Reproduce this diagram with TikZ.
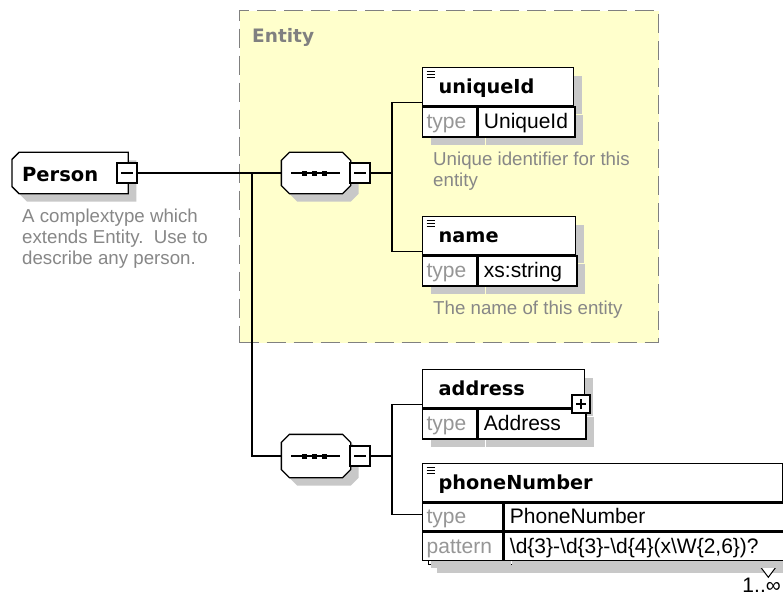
\documentclass[tikz,border=0pt]{standalone}
\usepackage{fontspec}
\setmainfont{Liberation Sans}
\newfontfamily\hdfont{DejaVu Sans}
\usetikzlibrary{positioning,fit,shadows}
\definecolor{EntYel}{RGB}{255,255,204}
\definecolor{EntGray}{RGB}{128,128,128}
\definecolor{ShadowGray}{RGB}{200,200,200}
\definecolor{TypeGray}{RGB}{150,150,150}
\definecolor{DescGray}{RGB}{135,135,135}
% box with cut corners, left and right cut set apart
\makeatletter
\newdimen\octLx \newdimen\octBy \newdimen\octRx \newdimen\octTy
\newdimen\octCl \newdimen\octCr
\pgfkeys{/pgf/oct left/.initial=8pt,/pgf/oct right/.initial=8pt}
\pgfdeclareshape{octbox}{%
  \inheritsavedanchors[from=rectangle]%
  \inheritanchorborder[from=rectangle]%
  \inheritanchor[from=rectangle]{center}%
  \inheritanchor[from=rectangle]{north}%
  \inheritanchor[from=rectangle]{south}%
  \inheritanchor[from=rectangle]{east}%
  \inheritanchor[from=rectangle]{west}%
  \inheritanchor[from=rectangle]{north east}%
  \inheritanchor[from=rectangle]{north west}%
  \inheritanchor[from=rectangle]{south east}%
  \inheritanchor[from=rectangle]{south west}%
  \inheritanchor[from=rectangle]{base}%
  \backgroundpath{%
    \southwest \octLx=\pgf@x \octBy=\pgf@y
    \northeast \octRx=\pgf@x \octTy=\pgf@y
    \pgfmathsetlength\octCl{\pgfkeysvalueof{/pgf/oct left}}%
    \pgfmathsetlength\octCr{\pgfkeysvalueof{/pgf/oct right}}%
    \pgfpathmoveto{\pgfqpoint{\octLx}{\dimexpr\octBy+\octCl\relax}}%
    \pgfpathlineto{\pgfqpoint{\octLx}{\dimexpr\octTy-\octCl\relax}}%
    \pgfpathlineto{\pgfqpoint{\dimexpr\octLx+\octCl\relax}{\octTy}}%
    \pgfpathlineto{\pgfqpoint{\dimexpr\octRx-\octCr\relax}{\octTy}}%
    \pgfpathlineto{\pgfqpoint{\octRx}{\dimexpr\octTy-\octCr\relax}}%
    \pgfpathlineto{\pgfqpoint{\octRx}{\dimexpr\octBy+\octCr\relax}}%
    \pgfpathlineto{\pgfqpoint{\dimexpr\octRx-\octCr\relax}{\octBy}}%
    \pgfpathlineto{\pgfqpoint{\dimexpr\octLx+\octCl\relax}{\octBy}}%
    \pgfpathclose
  }%
}
\makeatother
\tikzset{
  wire/.style={line width=1.3pt,black},
  xsshadow/.style={drop shadow={shadow xshift=8pt,shadow yshift=-8pt,fill=ShadowGray,opacity=1}},
  entbox/.style={rectangle,draw=EntGray,fill=EntYel,line width=1.3pt,
                 dash pattern=on 19pt off 8pt,anchor=north west,inner sep=0pt},
  entlbl/.style={anchor=base west,inner sep=0pt,text=EntGray,
                 font=\hdfont\bfseries\fontsize{18.5}{22}\selectfont},
  pnode/.style={octbox,oct left=7pt,oct right=0pt,
                draw,fill=white,line width=1.3pt,xsshadow,anchor=west,
                minimum width=115pt,minimum height=40pt,inner sep=0pt,
                align=left,text width=96pt,text height=18pt,text depth=2pt,
                font=\hdfont\bfseries\fontsize{19.5}{22}\selectfont},
  seqnode/.style={octbox,oct left=8pt,oct right=8pt,
                  draw,fill=white,line width=1.3pt,xsshadow,
                  minimum width=68pt,minimum height=40pt,inner sep=0pt,
                  path picture={
                    \draw[line width=1.3pt] ([xshift=-25pt]path picture bounding box.center)
                      -- ([xshift=24pt]path picture bounding box.center);
                    \foreach \k in {-12,-2,8}
                      \fill[black] ([shift={(\k-2.5,-2.5)}]path picture bounding box.center) rectangle ++(5,5);
                  }},
  minbox/.style={rectangle,draw,fill=white,line width=1.3pt,minimum size=20pt,inner sep=0pt,
                 path picture={\draw[line width=1.2pt] ([xshift=4pt]path picture bounding box.west)
                   -- ([xshift=-4pt]path picture bounding box.east);}},
  plusbox/.style={rectangle,draw,fill=white,line width=1.3pt,minimum size=18pt,inner sep=0pt,
                  path picture={
                    \draw[line width=1.2pt] ([xshift=4pt]path picture bounding box.west)
                      -- ([xshift=-4pt]path picture bounding box.east);
                    \draw[line width=1.2pt] ([yshift=-4pt]path picture bounding box.north)
                      -- ([yshift=4pt]path picture bounding box.south);}},
  hdr/.style={rectangle,draw,fill=white,line width=1.3pt,xsshadow,anchor=north west,
              minimum height=38pt,inner xsep=16pt,inner ysep=0pt,align=left,
              text height=18pt,text depth=4pt,
              font=\hdfont\bfseries\fontsize{19.3}{22}\selectfont},
  opt/.style={path picture={\foreach \k in {0,3,6}
                \draw[line width=1.1pt] ([shift={(4,4+\k)}]path picture bounding box.north west) -- ++(8,0);}},
  tcell/.style={rectangle,draw,fill=white,line width=1.3pt,xsshadow,minimum height=30pt,
                inner xsep=4pt,inner ysep=0pt,align=left,text width=46pt,
                text height=17pt,text depth=3pt,text=TypeGray,
                font=\fontsize{21}{24}\selectfont},
  vcell/.style={tcell,inner xsep=6pt,text=black},
  stackbox/.style={rectangle,draw,fill=white,line width=1.3pt,xsshadow,anchor=north west,inner sep=0pt},
  desc/.style={anchor=north west,inner sep=0pt,align=left,text=DescGray,
               font=\fontsize{18.7}{21}\selectfont},
  mult/.style={anchor=base east,inner sep=0pt,font=\fontsize{21}{24}\selectfont},
}

\begin{document}
\begin{tikzpicture}[x=1pt,y=-1pt]
  \path[use as bounding box,fill=white] (0,0) rectangle (783,596);
  % base type
  \node[entbox,minimum width=419pt,minimum height=332pt] (entity) at (239,10) {};
  \node[entlbl] (entlabel) at (252,43) {Entity};

  % root element
  \node[pnode] (person) at (12,173) {Person};
  \node[minbox] (pmin) at (127,173) {};
  \node[desc] (pdesc) at (22,209) {A complextype which\\extends Entity.\ \ Use to\\describe any person.};

  % sequences
  \node[seqnode] (seq1) at (316,173) {};
  \node[minbox] (s1min) at (360,173) {};
  \node[seqnode,minimum height=42pt] (seq2) at (316,456) {};
  \node[minbox] (s2min) at (360,456) {};

  % uniqueId
  \node[hdr,opt,text width=119pt] (uid) at (422,67) {uniqueId};
  \node[tcell,below right=0pt of uid.south west] (uidt) {type};
  \node[vcell,right=0pt of uidt,text width=85pt] (uidv) {UniqueId};
  \node[fit=(uid)(uidv),inner sep=0pt] (uidbox) {};
  \node[desc] (uiddesc) at (433,152) {Unique identifier for this\\entity};

  % name
  \node[hdr,opt,text width=121pt] (nm) at (422,216) {name};
  \node[tcell,below right=0pt of nm.south west] (nmt) {type};
  \node[vcell,right=0pt of nmt,text width=87pt] (nmv) {xs:string};
  \node[fit=(nm)(nmv),inner sep=0pt] (nmbox) {};
  \node[desc] (nmdesc) at (433,301) {The name of this entity};

  % address
  \node[hdr,text width=130pt] (ad) at (422,369) {address};
  \node[tcell,below right=0pt of ad.south west] (adt) {type};
  \node[vcell,right=0pt of adt,text width=96pt] (adv) {Address};
  \node[plusbox] (adplus) at (581,404) {};
  \node[fit=(ad)(adv),inner sep=0pt] (adbox) {};

  % phoneNumber
  \node[stackbox,minimum width=360pt,minimum height=94pt] (phstack) at (428,470) {};
  \draw[line width=1pt,fill=white] ([xshift=-30pt]phstack.south east) -- ++(9,12) -- ++(9,-12);
  \node[hdr,opt,text width=328pt] (ph) at (422,463) {phoneNumber};
  \node[tcell,minimum height=28pt,text width=72pt,below right=0pt of ph.south west] (pht) {type};
  \node[vcell,minimum height=28pt,right=0pt of pht,text width=268pt] (phv) {PhoneNumber};
  \node[tcell,minimum height=28pt,text width=72pt,below right=0pt of pht.south west] (php) {pattern};
  \node[vcell,minimum height=28pt,right=0pt of php,text width=268pt] (phpv)
    {\textbackslash d\{3\}-\textbackslash d\{3\}-\textbackslash d\{4\}(x\textbackslash W\{2,6\})?};
  \node[fit=(ph)(phstack),inner sep=0pt] (phbox) {};
  \node[mult] (phmult) at (781,592) {1..∞};

  % connectors
  \coordinate (j1) at (252,173);
  \coordinate (j2) at (392,173);
  \coordinate (j3) at (392,456);
  \draw[wire] (pmin.east) -- (seq1.west);
  \draw[wire] (j1) |- (seq2.west);
  \draw[wire] (s1min.east) -- (j2);
  \draw[wire] (uidbox.west) -| (j2) |- (nmbox.west);
  \draw[wire] (s2min.east) -- (j3);
  \draw[wire] (adbox.west) -| (j3) |- (phbox.west);
\end{tikzpicture}
\end{document}
